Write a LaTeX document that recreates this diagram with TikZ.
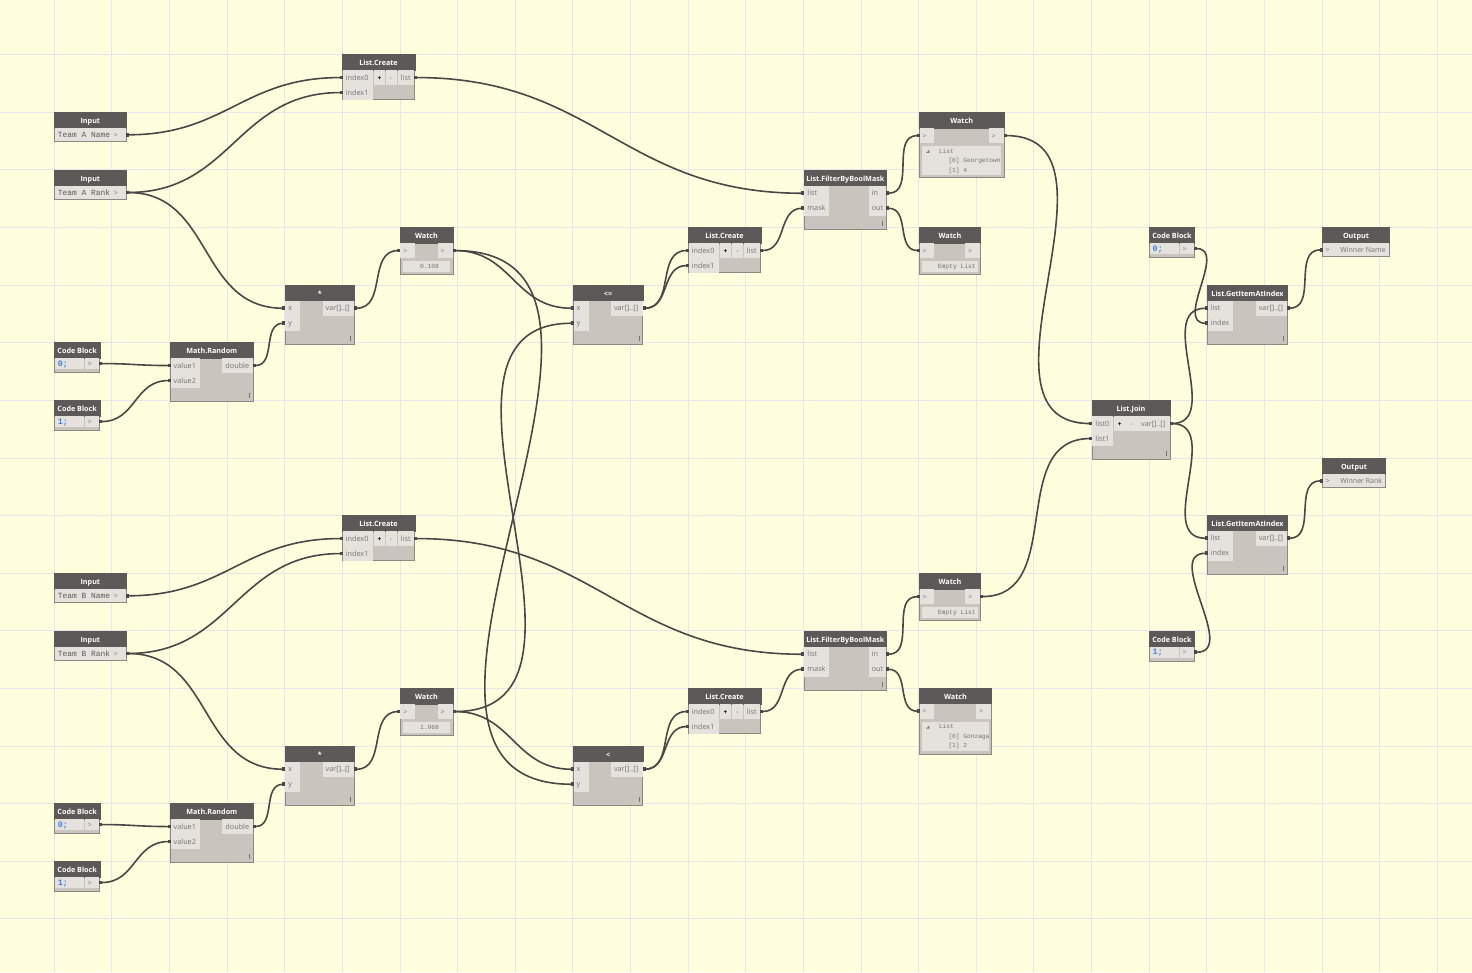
\documentclass[tikz,border=0pt]{standalone}
\usepackage{fontspec}
\setmainfont{Open Sans}
\setmonofont{Liberation Mono}
\usetikzlibrary{arrows.meta}
\usetikzlibrary{calc}
\definecolor{canvas}{HTML}{FFFFDE}
\definecolor{gridgray}{HTML}{E6E6EA}
\definecolor{headgray}{HTML}{5C5A58}
\definecolor{bodygray}{HTML}{C9C5BE}
\definecolor{portgray}{HTML}{E5E2DE}
\definecolor{edgegray}{HTML}{8B8983}
\definecolor{labelgray}{HTML}{75726F}
\definecolor{wiregray}{HTML}{494846}
\definecolor{codeblue}{HTML}{3F83DC}
\tikzset{
    gridline/.style={draw=gridgray,line width=0.9pt},
    blockbody/.style={draw=edgegray,fill=bodygray,line width=0.9pt,inner sep=0pt,outer sep=0pt,anchor=north west},
    blockhead/.style={draw=headgray,fill=headgray,text=white,line width=0.5pt,inner sep=0pt,outer sep=0pt,anchor=north west,minimum height=15.5pt,text height=7.5pt,text depth=0.5pt,font=\bfseries\fontsize{7.2}{8}\selectfont},
    portbox/.style={fill=portgray,text=labelgray,inner sep=0pt,outer sep=0pt,minimum height=14.5pt,text height=6pt,text depth=1pt,font=\fontsize{7.3}{8}\selectfont},
    monoport/.style={text=black!65,font=\ttfamily\fontsize{7.9}{8}\selectfont},
    codeport/.style={text=codeblue,font=\ttfamily\bfseries\fontsize{8.4}{8}\selectfont},
    symport/.style={font=\fontsize{7}{8}\selectfont},
    shortrow/.style={minimum height=10.5pt},
    valuebox/.style={fill=portgray,text=labelgray,inner sep=0pt,outer sep=0pt,anchor=north west,text height=5pt,text depth=0.5pt,font=\ttfamily\fontsize{6.3}{8}\selectfont},
    listtext/.style={text=labelgray,inner sep=0pt,anchor=west,text height=4.5pt,text depth=1pt,font=\ttfamily\fontsize{6.2}{8}\selectfont},
    listmark/.style={fill=labelgray},
    gripmark/.style={draw=labelgray,line width=0.8pt},
    wire/.style={draw=wiregray,line width=1.6pt,out=0,in=180,looseness=1.14,{Square[length=3pt,width=3.8pt]}-{Square[length=3pt,width=3.8pt]}},
}
\newcommand{\block}[6]{
    \node[blockbody,minimum width=#4pt,minimum height=#5pt] (#1) at (#2,#3) {};
    \node[blockhead,minimum width=#4pt] (#1-head) at (#1.north west) {#6};
}
\newcommand{\iport}[6][]{
    \node[portbox,anchor=north west,#1] (#2) at ([xshift=0.4pt,yshift=-#4pt]#3.north west) {\makebox[#5pt][l]{\hspace{3pt}#6}};
}
\newcommand{\oport}[6][]{
    \node[portbox,anchor=north east,#1] (#2) at ([xshift=-0.4pt,yshift=-#4pt]#3.north east) {\makebox[#5pt][l]{\hspace{3pt}#6}};
}
\newcommand{\grip}[1]{
    \draw[gripmark] ([xshift=-4pt,yshift=8pt]#1.south east) -- ++(0,4.5);
}
\newcommand{\plusminus}[3]{
    \node[portbox,anchor=north west,text=black,font=\bfseries\fontsize{6.5}{8}\selectfont,minimum width=11.5pt] (#1-plus) at ([xshift=#2pt,yshift=-16pt]#1.north west) {+};
    \node[portbox,anchor=north west,minimum width=11.5pt] (#1-minus) at ([xshift=#3pt,yshift=-16pt]#1.north west) {-};
}
\newcommand{\inputnode}[4]{
    \block{#1}{#2}{#3}{71.7}{29}{Input}
    \iport[monoport,minimum height=13pt]{#1-text}{#1}{16}{56}{#4}
    \oport[symport,minimum height=13pt]{#1-out}{#1}{16}{15}{>}
}
\newcommand{\codeblock}[4]{
    \block{#1}{#2}{#3}{45.3}{30}{Code Block}
    \iport[codeport,shortrow]{#1-text}{#1}{16}{29.5}{#4}
    \oport[symport,shortrow]{#1-out}{#1}{16}{14.5}{>}
}
\newcommand{\binop}[4]{
    \block{#1}{#2}{#3}{69.6}{59.3}{#4}
    \iport{#1-x}{#1}{16}{15}{x}
    \iport{#1-y}{#1}{31}{15}{y}
    \oport{#1-out}{#1}{16}{31.5}{var[]..[]}
    \grip{#1}
}
\newcommand{\mathrandom}[3]{
    \block{#1}{#2}{#3}{83}{59}{Math.Random}
    \iport{#1-in0}{#1}{16}{29.5}{value1}
    \iport{#1-in1}{#1}{31}{29.5}{value2}
    \oport{#1-out}{#1}{16}{30.5}{double}
    \grip{#1}
}
\newcommand{\listcreate}[3]{
    \block{#1}{#2}{#3}{72.5}{45.5}{List.Create}
    \iport{#1-in0}{#1}{16}{30.5}{index0}
    \iport{#1-in1}{#1}{31}{30.5}{index1}
    \plusminus{#1}{31.5}{43.5}
    \oport{#1-out}{#1}{16}{16.5}{list}
}
\newcommand{\filtermask}[3]{
    \block{#1}{#2}{#3}{82.7}{59.3}{List.FilterByBoolMask}
    \iport{#1-list}{#1}{16}{25}{list}
    \iport{#1-mask}{#1}{31}{25}{mask}
    \oport{#1-in}{#1}{16}{17.5}{in}
    \oport{#1-out}{#1}{31}{17.5}{out}
    \grip{#1}
}
\newcommand{\getitem}[3]{
    \block{#1}{#2}{#3}{80.4}{59.3}{List.GetItemAtIndex}
    \iport{#1-list}{#1}{16}{25.5}{list}
    \iport{#1-index}{#1}{31}{25.5}{index}
    \oport{#1-out}{#1}{16}{31.5}{var[]..[]}
    \grip{#1}
}
\newcommand{\outputnode}[5]{
    \block{#1}{#2}{#3}{#4}{29.5}{Output}
    \iport[symport,minimum height=13pt]{#1-in}{#1}{16}{14.5}{>}
    \pgfmathsetmacro{\labelw}{#4-15.5}
    \oport[minimum height=13pt,font=\fontsize{7}{8}\selectfont]{#1-text}{#1}{16}{\labelw}{#5}
}
\newcommand{\watchports}[5]{
    \block{#1}{#2}{#3}{#4}{#5}{Watch}
    \iport[symport]{#1-in}{#1}{16}{14.5}{>}
    \oport[symport]{#1-out}{#1}{16}{15}{>}
    \pgfmathsetmacro{\boxw}{#4-6}
}
\newcommand{\watchvalue}[6][2]{
    \watchports{#2}{#3}{#4}{#5}{47.4}
    \node[valuebox,minimum width=\boxw pt,minimum height=11pt] (#2-value) at ([xshift=3pt,yshift=-33.7pt]#2.north west) {\makebox[\boxw pt][r]{#6\hspace{#1pt}}};
}
\newcommand{\watchlist}[7]{
    \watchports{#1}{#2}{#3}{#4}{#5}
    \node[valuebox,minimum width=\boxw pt,minimum height=29pt] (#1-value) at ([xshift=3pt,yshift=-33.5pt]#1.north west) {};
    \fill[listmark] ([xshift=7pt,yshift=-40.5pt]#1.north west) -- ++(3,0) -- ++(0,-3) -- cycle;
    \node[listtext] (#1-head0) at ([xshift=19.5pt,yshift=-39pt]#1.north west) {List};
    \node[listtext] (#1-item0) at ([xshift=29pt,yshift=-48.5pt]#1.north west) {#6};
    \node[listtext] (#1-item1) at ([xshift=29pt,yshift=-58pt]#1.north west) {#7};
}
\begin{document}
\begin{tikzpicture}[x=1pt,y=-1pt]
    \useasboundingbox (0,0) rectangle (1472,972);
    \fill[canvas] (0,0) rectangle (1472,972);
    \foreach \i in {0,...,25}
        \draw[gridline] ({-3.3+57.62*\i},0) -- ++(0,972);
    \foreach \i in {0,...,16}
        \draw[gridline] (0,{-3.0+57.62*\i}) -- ++(1472,0);

    \listcreate{lcnameA}{342.3}{54.3}
    \inputnode{teamnameA}{54.5}{112.3}{Team A Name}
    \inputnode{teamrankA}{54.5}{170}{Team A Rank}
    \binop{mulA}{285}{285}{*}
    \mathrandom{randA}{170.3}{342.3}
    \codeblock{lowA}{54.5}{342.3}{0;}
    \codeblock{highA}{54.5}{400.3}{1;}
    \watchvalue[11]{scoreA}{400}{227.3}{53}{0.108}
    \binop{cmpA}{573.3}{285}{<=}
    \listcreate{maskA}{688.3}{227.3}
    \filtermask{filterA}{804}{170}
    \watchlist{winA}{919.3}{112.3}{84.7}{65}{[0] Georgetown}{[1] 4}
    \watchvalue{loseA}{919.3}{227.3}{61.4}{Empty List}

    \listcreate{lcnameB}{342.3}{515.3}
    \inputnode{teamnameB}{54.5}{573.3}{Team B Name}
    \inputnode{teamrankB}{54.5}{631}{Team B Rank}
    \binop{mulB}{285}{746}{*}
    \mathrandom{randB}{170.3}{803.3}
    \codeblock{lowB}{54.5}{803.3}{0;}
    \codeblock{highB}{54.5}{861.3}{1;}
    \watchvalue[11]{scoreB}{400}{688.3}{53}{1.968}
    \binop{cmpB}{573.3}{746}{<}
    \listcreate{maskB}{688.3}{688.3}
    \filtermask{filterB}{804}{631}
    \watchvalue{winB}{919.3}{573.3}{61.4}{Empty List}
    \watchlist{loseB}{919.3}{688}{72.4}{66.3}{[0] Gonzaga}{[1] 2}

    \block{join}{1092}{400.3}{78}{59}{List.Join}
    \iport{join-in0}{join}{16}{21}{list0}
    \iport{join-in1}{join}{31}{21}{list1}
    \plusminus{join}{22}{34}
    \oport{join-out}{join}{16}{31.5}{var[]..[]}
    \grip{join}

    \codeblock{pickA}{1149.3}{227.3}{0;}
    \getitem{getA}{1207.3}{285}
    \outputnode{outA}{1322.3}{227.3}{67.4}{Winner Name}
    \codeblock{pickB}{1149.3}{631}{1;}
    \getitem{getB}{1207.3}{515}
    \outputnode{outB}{1322.3}{458.3}{63.4}{Winner Rank}

    \draw[wire] (teamnameA-out.east) to (lcnameA-in0.west);
    \draw[wire] (teamrankA-out.east) to (lcnameA-in1.west);
    \draw[wire] (teamrankA-out.east) to (mulA-x.west);
    \draw[wire] (lowA-out.east) to (randA-in0.west);
    \draw[wire] (highA-out.east) to (randA-in1.west);
    \draw[wire] (randA-out.east) to (mulA-y.west);
    \draw[wire] (mulA-out.east) to (scoreA-in.west);
    \draw[wire] (scoreA-out.east) to (cmpA-x.west);
    \draw[wire] (scoreA-out.east) to (cmpB-y.west);
    \draw[wire] (cmpA-out.east) to (maskA-in0.west);
    \draw[wire] (cmpA-out.east) to (maskA-in1.west);
    \draw[wire] (lcnameA-out.east) to (filterA-list.west);
    \draw[wire] (maskA-out.east) to (filterA-mask.west);
    \draw[wire] (filterA-in.east) to (winA-in.west);
    \draw[wire] (filterA-out.east) to (loseA-in.west);
    \draw[wire] (winA-out.east) to (join-in0.west);

    \draw[wire] (teamnameB-out.east) to (lcnameB-in0.west);
    \draw[wire] (teamrankB-out.east) to (lcnameB-in1.west);
    \draw[wire] (teamrankB-out.east) to (mulB-x.west);
    \draw[wire] (lowB-out.east) to (randB-in0.west);
    \draw[wire] (highB-out.east) to (randB-in1.west);
    \draw[wire] (randB-out.east) to (mulB-y.west);
    \draw[wire] (mulB-out.east) to (scoreB-in.west);
    \draw[wire] (scoreB-out.east) to (cmpB-x.west);
    \draw[wire] (scoreB-out.east) to (cmpA-y.west);
    \draw[wire] (cmpB-out.east) to (maskB-in0.west);
    \draw[wire] (cmpB-out.east) to (maskB-in1.west);
    \draw[wire] (lcnameB-out.east) to (filterB-list.west);
    \draw[wire] (maskB-out.east) to (filterB-mask.west);
    \draw[wire] (filterB-in.east) to (winB-in.west);
    \draw[wire] (filterB-out.east) to (loseB-in.west);
    \draw[wire] (winB-out.east) to (join-in1.west);

    \draw[wire] (join-out.east) to (getA-list.west);
    \draw[wire] (join-out.east) to (getB-list.west);
    \draw[wire] (pickA-out.east) to (getA-index.west);
    \draw[wire] (pickB-out.east) to (getB-index.west);
    \draw[wire] (getA-out.east) to (outA-in.west);
    \draw[wire] (getB-out.east) to (outB-in.west);
\end{tikzpicture}
\end{document}
